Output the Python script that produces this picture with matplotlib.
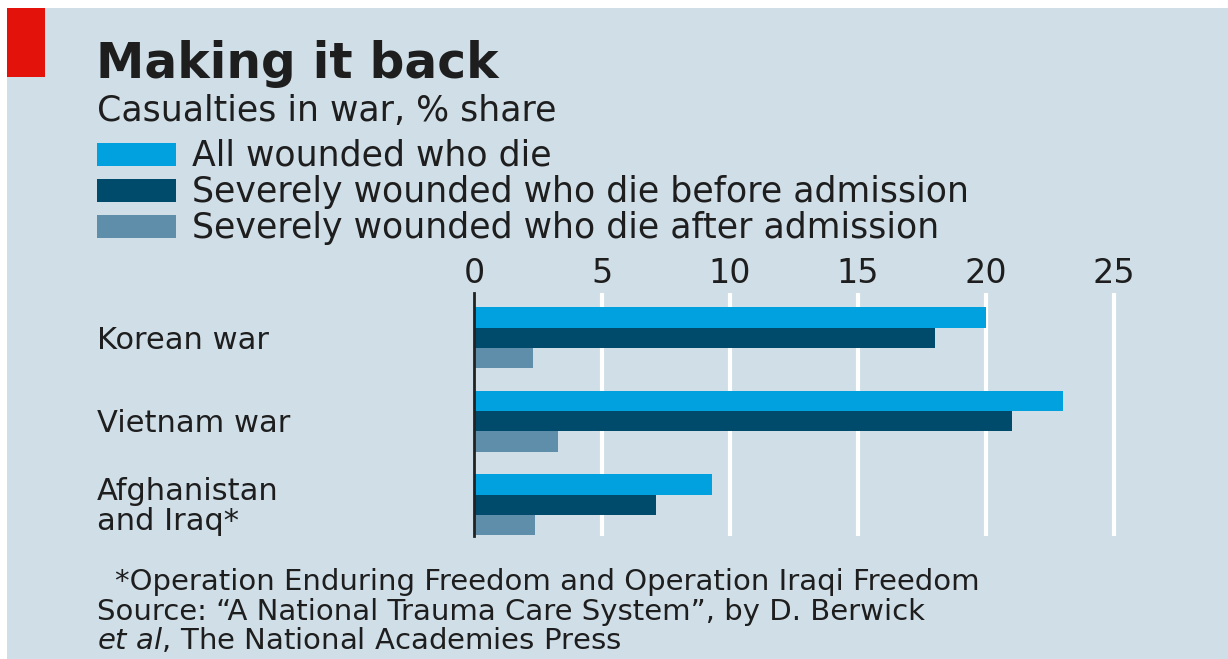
import matplotlib
matplotlib.use("Agg")
import matplotlib.pyplot as plt
from matplotlib.patches import Rectangle

# data
wars = ["Korean war", "Vietnam war", "Afghanistan\nand Iraq*"]
all_wounded_die = [20.0, 23.0, 9.3]
severe_before_admission = [18.0, 21.0, 7.1]
severe_after_admission = [2.3, 3.3, 2.4]
series_names = ["All wounded who die",
                "Severely wounded who die before admission",
                "Severely wounded who die after admission"]
xticks = [0, 5, 10, 15, 20, 25]

W, H = 1228, 659
bg = "#cfdee7"
colors = ["#00a1de", "#004b6c", "#5f8eaa"]
ink = "#1e1e1e"

plt.rcParams['font.family'] = ['DejaVu Sans']

fig = plt.figure(figsize=(W / 100, H / 100), dpi=100)
fig.patch.set_facecolor("white")


def fx(px):
    return px / W


def fy(py):
    return 1 - py / H


# panel background and red tag
fig.add_artist(Rectangle((fx(7), 0), 1 - fx(7), fy(8), transform=fig.transFigure,
                         facecolor=bg, edgecolor="none", zorder=0))
fig.add_artist(Rectangle((fx(7), fy(77)), fx(38), fy(8) - fy(77), transform=fig.transFigure,
                         facecolor="#e3120b", edgecolor="none", zorder=1))

fig.text(fx(96), fy(78), "Making it back", fontsize=35, fontweight="bold",
         color=ink, va="baseline")
fig.text(fx(97), fy(121), "Casualties in war, % share", fontsize=25,
         color=ink, va="baseline")

# legend drawn by hand to match the stacked layout
leg_tops = [143, 179, 215]
for top, name, c in zip(leg_tops, series_names, colors):
    fig.add_artist(Rectangle((fx(97), fy(top + 23)), fx(79), fy(top) - fy(top + 23),
                             transform=fig.transFigure, facecolor=c, edgecolor="none"))
    fig.text(fx(192), fy(top + 23), name, fontsize=25, color=ink, va="baseline")

# bar chart
x0, x1 = 474, 1178
ytop, ybot = 293, 536
ax = fig.add_axes([fx(x0), fy(ybot), fx(x1 - x0), fy(ytop) - fy(ybot)])
ax.set_facecolor("none")
h = 0.245
for i, (vals, c) in enumerate(zip([all_wounded_die, severe_before_admission,
                                    severe_after_admission], colors)):
    ax.barh([g + (i - 1) * h for g in range(len(wars))], vals, height=h,
            color=c, zorder=3)
ax.set_xlim(0, (x1 - x0) / 25.6)
ax.set_ylim(2.374, -0.536)
ax.set_xticks(xticks)
ax.set_xticklabels([str(t) for t in xticks], fontsize=24, color=ink)
ax.xaxis.tick_top()
ax.tick_params(axis="x", length=0, pad=2)
ax.set_yticks([])
for t in xticks[1:]:
    ax.axvline(t, color="white", lw=3, zorder=1)
for s in ["top", "right", "bottom"]:
    ax.spines[s].set_visible(False)
ax.spines["left"].set_color("#222222")
ax.spines["left"].set_linewidth(2)
ax.spines["left"].set_zorder(4)

label_baselines = [349, 432, 500]
for lab, yb in zip(wars, label_baselines):
    lines = lab.split("\n")
    for k, ln in enumerate(lines):
        fig.text(fx(97), fy(yb + 30 * k), ln, fontsize=22, color=ink, va="baseline")

fig.text(fx(115), fy(590), "*Operation Enduring Freedom and Operation Iraqi Freedom",
         fontsize=21, color=ink, va="baseline")
fig.text(fx(97), fy(620), "Source: \u201cA National Trauma Care System\u201d, by D. Berwick",
         fontsize=21, color=ink, va="baseline")
fig.text(fx(97), fy(649), r"$\it{et\ al}$, The National Academies Press",
         fontsize=21, color=ink, va="baseline")

fig.savefig("out.png", dpi=100, facecolor=fig.get_facecolor())
